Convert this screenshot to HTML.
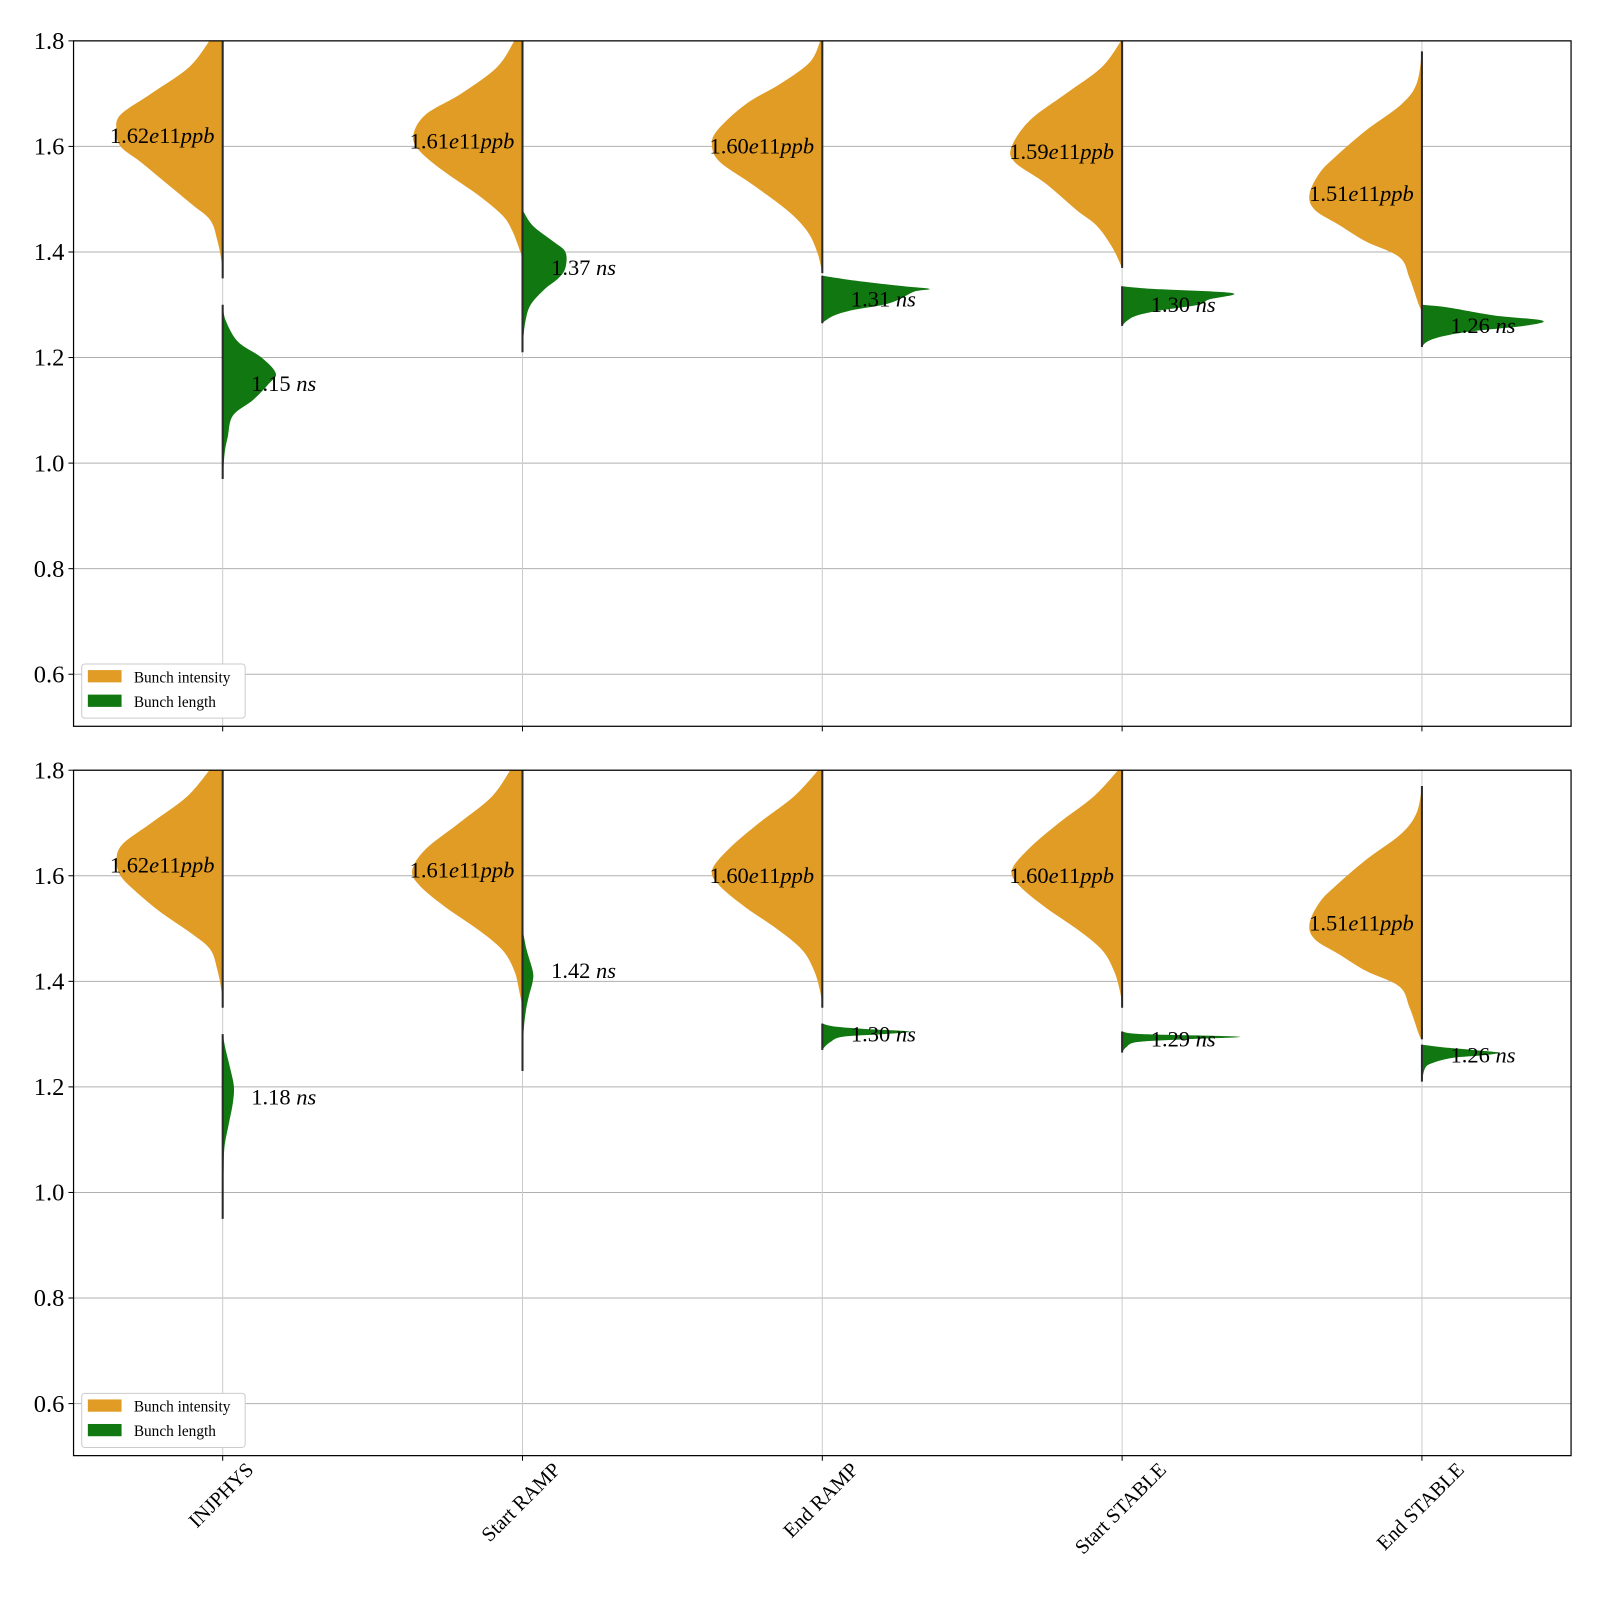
<!DOCTYPE html>
<html><head><meta charset="utf-8"><style>
html,body{margin:0;padding:0;background:#fff}
svg{display:block;font-family:"Liberation Serif",serif}
</style></head><body>
<svg id="chart" width="1600" height="1600" viewBox="0 0 1600 1600" xmlns="http://www.w3.org/2000/svg"><g id="root" transform="scale(1.0215)"></g></svg>
<script>
const categories = ["INJPHYS","Start RAMP","End RAMP","Start STABLE","End STABLE"];
const yTicks = [0.6,0.8,1.0,1.2,1.4,1.6,1.8];
const intensityTop = [1.62,1.61,1.60,1.59,1.51];
const lengthTop = [1.15,1.37,1.31,1.30,1.26];
const intensityBot = [1.62,1.61,1.60,1.60,1.51];
const lengthBot = [1.18,1.42,1.30,1.29,1.26];
const intProfTop = [
 [[1.80,13],[1.75,33],[1.70,70],[1.66,100],[1.63,104],[1.60,100],[1.57,80],[1.53,55],[1.49,30],[1.46,12],[1.42,5],[1.38,1],[1.35,0]],
 [[1.80,8],[1.75,25],[1.70,60],[1.66,95],[1.62,107],[1.59,100],[1.55,75],[1.51,45],[1.47,20],[1.44,10],[1.40,2],[1.39,0]],
 [[1.80,2],[1.76,12],[1.72,40],[1.68,75],[1.63,103],[1.60,108],[1.57,100],[1.53,70],[1.48,35],[1.44,15],[1.40,5],[1.36,0]],
 [[1.80,1],[1.75,20],[1.70,55],[1.65,90],[1.60,108],[1.57,105],[1.53,75],[1.48,45],[1.45,25],[1.41,10],[1.37,0]],
 [[1.78,0],[1.72,5],[1.68,20],[1.63,55],[1.58,85],[1.55,100],[1.51,110],[1.48,105],[1.45,80],[1.42,55],[1.39,22],[1.35,12],[1.30,3],[1.29,0]]
];
const lenProfTop = [
 [[1.30,0],[1.27,3],[1.23,15],[1.20,38],[1.17,52],[1.15,45],[1.12,30],[1.09,10],[1.05,5],[1.02,2],[0.97,0]],
 [[1.48,0],[1.45,10],[1.42,30],[1.40,42],[1.37,42],[1.35,35],[1.33,22],[1.30,8],[1.27,3],[1.24,1],[1.21,0]],
 [[1.355,0],[1.345,35],[1.335,80],[1.33,105],[1.325,90],[1.31,75],[1.30,60],[1.29,30],[1.28,12],[1.27,3],[1.265,0]],
 [[1.335,0],[1.33,30],[1.322,108],[1.31,85],[1.30,75],[1.29,40],[1.28,15],[1.27,5],[1.26,0]],
 [[1.30,0],[1.295,25],[1.28,70],[1.27,118],[1.26,100],[1.25,50],[1.24,20],[1.23,5],[1.22,0]]
];
const intProfBot = [
 [[1.80,13],[1.75,35],[1.70,70],[1.66,98],[1.63,104],[1.60,100],[1.57,85],[1.53,60],[1.49,30],[1.46,12],[1.42,5],[1.38,1],[1.35,0]],
 [[1.80,12],[1.75,30],[1.70,62],[1.65,95],[1.61,108],[1.58,100],[1.54,75],[1.50,45],[1.46,20],[1.42,8],[1.38,3],[1.35,0]],
 [[1.80,4],[1.75,28],[1.70,62],[1.65,92],[1.61,108],[1.58,100],[1.54,75],[1.50,45],[1.46,20],[1.42,8],[1.38,2],[1.35,0]],
 [[1.80,4],[1.75,28],[1.70,62],[1.65,92],[1.61,108],[1.58,100],[1.54,75],[1.50,45],[1.46,20],[1.42,8],[1.38,2],[1.35,0]],
 [[1.77,0],[1.72,5],[1.68,20],[1.63,55],[1.58,85],[1.55,100],[1.51,110],[1.48,105],[1.45,80],[1.42,55],[1.39,22],[1.35,12],[1.30,3],[1.29,0]]
];
const lenProfBot = [
 [[1.30,0],[1.27,3],[1.23,8],[1.20,11],[1.17,10],[1.13,6],[1.09,2],[1.05,1],[0.95,0]],
 [[1.50,0],[1.46,4],[1.42,10],[1.40,10],[1.37,6],[1.34,3],[1.30,1],[1.23,0]],
 [[1.32,0],[1.315,10],[1.31,40],[1.305,85],[1.30,60],[1.295,20],[1.285,8],[1.275,2],[1.27,0]],
 [[1.305,0],[1.30,20],[1.295,115],[1.29,60],[1.285,15],[1.275,4],[1.265,0]],
 [[1.28,0],[1.275,20],[1.27,50],[1.265,75],[1.26,60],[1.255,30],[1.245,10],[1.235,3],[1.21,0]]
];

const NS="http://www.w3.org/2000/svg";
const root=document.getElementById('root');
function mk(tag,attrs,parent){const e=document.createElementNS(NS,tag);for(const k in attrs)e.setAttribute(k,attrs[k]);(parent||root).appendChild(e);return e;}
const X0=72,X1=1538;
function xPos(i){return 218+i*293.5;}
function pathFor(cx,prof,yf,side){
  const pts=prof.map(p=>[cx+side*p[1],yf(p[0])]);
  let d=`M${cx},${pts[0][1]} L${pts[0][0]},${pts[0][1]}`;
  for(let i=0;i<pts.length-1;i++){
    const p0=pts[Math.max(0,i-1)],p1=pts[i],p2=pts[i+1],p3=pts[Math.min(pts.length-1,i+2)];
    const c1=[p1[0]+(p2[0]-p0[0])/6,p1[1]+(p2[1]-p0[1])/6];
    const c2=[p2[0]-(p3[0]-p1[0])/6,p2[1]-(p3[1]-p1[1])/6];
    d+=` C${c1[0]},${c1[1]} ${c2[0]},${c2[1]} ${p2[0]},${p2[1]}`;
  }
  d+=` L${cx},${pts[pts.length-1][1]} Z`;return d;
}
function panel(top,ints,lens,iprof,lprof,name){
  const bottom=top+671;
  const yf=v=>top+(1.8-v)*516.7;
  const g=mk('g',{});
  
  
  const clip=mk('clipPath',{id:'c'+name},g);
  mk('rect',{x:X0,y:top,width:X1-X0,height:671},clip);
  yTicks.forEach(t=>{
    const l=mk('line',{x1:X0,x2:X1,y1:yf(t),y2:yf(t),stroke:'#b0b0b0','stroke-width':1},g);
    
    
    mk('line',{x1:X0-5,x2:X0,y1:yf(t),y2:yf(t),stroke:'#000'},g);
    const tx=mk('text',{x:X0-9,y:yf(t)+8,'text-anchor':'end','font-size':24},g);
    tx.textContent=t.toFixed(1);
    
    
  });
  const vg=mk('g',{'clip-path':`url(#c${name})`},g);
  categories.forEach((c,i)=>{
    const cx=xPos(i);
    mk('line',{x1:cx,x2:cx,y1:top,y2:bottom,stroke:'#cccccc','stroke-width':1},vg);
    const a=mk('path',{d:pathFor(cx,iprof[i],yf,-1),fill:'#e09c24'},vg);
    
    
    const b=mk('path',{d:pathFor(cx,lprof[i],yf,1),fill:'#117711'},vg);
    
    
    const ip=iprof[i],lp=lprof[i];
    mk('line',{x1:cx,x2:cx,y1:yf(ip[0][0]),y2:yf(ip[ip.length-1][0]),stroke:'#2a2a2a','stroke-width':2},vg);
    mk('line',{x1:cx,x2:cx,y1:yf(lp[0][0]),y2:yf(lp[lp.length-1][0]),stroke:'#2a2a2a','stroke-width':2},vg);
    mk('line',{x1:cx,x2:cx,y1:bottom,y2:bottom+5,stroke:'#000'},g);
    const t1=mk('text',{x:cx-8,y:yf(ints[i])+7,'text-anchor':'end','font-size':22},g);
    t1.innerHTML=ints[i].toFixed(2)+'<tspan font-style="italic">e</tspan>11<tspan font-style="italic">ppb</tspan>';
    
    
    const t2=mk('text',{x:cx+28,y:yf(lens[i])+7,'font-size':22},g);
    t2.innerHTML=lens[i].toFixed(2)+' <tspan font-style="italic">ns</tspan>';
    
    
  });
  mk('rect',{x:X0,y:top,width:X1-X0,height:671,fill:'none',stroke:'#000','stroke-width':1.2},g);
  const lg=mk('g',{},g);
  
  
  mk('rect',{x:80,y:bottom-61,width:160,height:53,rx:3,fill:'#fff',stroke:'#ccc'},lg);
  mk('rect',{x:86,y:bottom-55,width:33,height:12,fill:'#e09c24'},lg);
  mk('rect',{x:86,y:bottom-31,width:33,height:12,fill:'#117711'},lg);
  const l1=mk('text',{x:131,y:bottom-43,'font-size':15},lg);l1.textContent='Bunch intensity';
  const l2=mk('text',{x:131,y:bottom-19,'font-size':15},lg);l2.textContent='Bunch length';
}
panel(40,intensityTop,lengthTop,intProfTop,lenProfTop,'top-panel');
panel(754,intensityBot,lengthBot,intProfBot,lenProfBot,'bottom-panel');
categories.forEach((c,i)=>{
  const cx=xPos(i);
  const t=mk('text',{x:0,y:0,'text-anchor':'end','font-size':20});
  t.textContent=c;
  const L=t.getComputedTextLength();
  const ex=cx+L*0.354+3, ey=1426+14;
  t.setAttribute('x',ex);t.setAttribute('y',ey);
  t.setAttribute('transform',`rotate(-45 ${ex} ${ey})`);
  
  
});
</script>
</body></html>
